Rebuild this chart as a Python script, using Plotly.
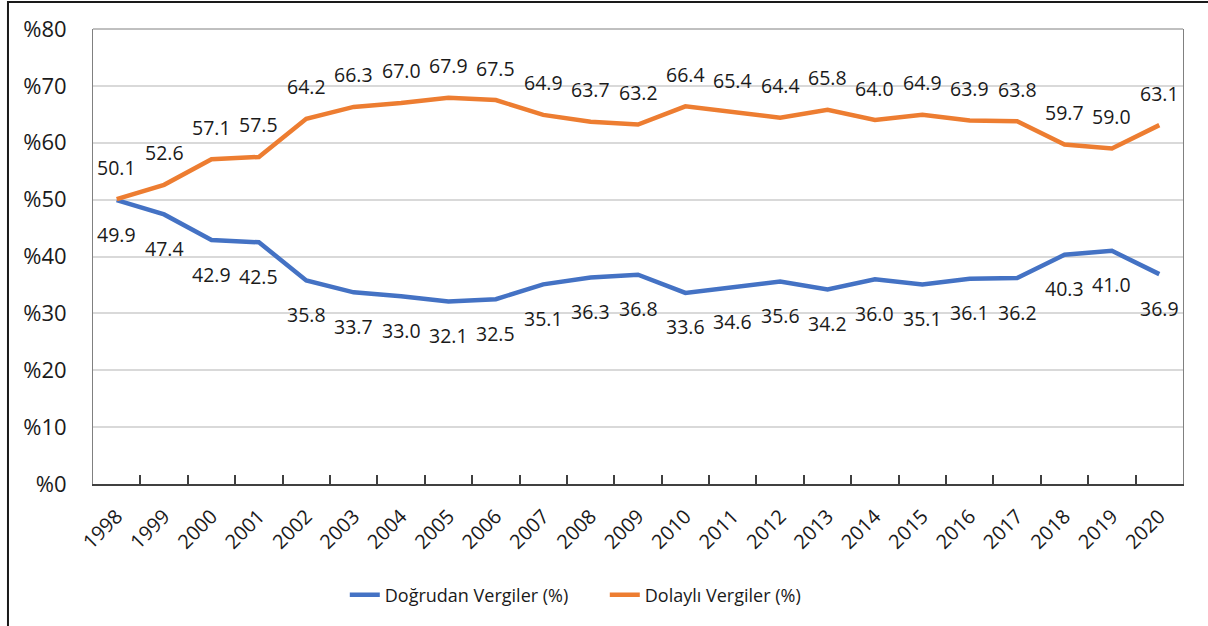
import plotly.graph_objects as go

years = [str(y) for y in range(1998, 2021)]
dogrudan = [49.9, 47.4, 42.9, 42.5, 35.8, 33.7, 33.0, 32.1, 32.5, 35.1, 36.3, 36.8,
            33.6, 34.6, 35.6, 34.2, 36.0, 35.1, 36.1, 36.2, 40.3, 41.0, 36.9]
dolayli = [50.1, 52.6, 57.1, 57.5, 64.2, 66.3, 67.0, 67.9, 67.5, 64.9, 63.7, 63.2,
           66.4, 65.4, 64.4, 65.8, 64.0, 64.9, 63.9, 63.8, 59.7, 59.0, 63.1]
y_ticks = [0, 10, 20, 30, 40, 50, 60, 70, 80]
y_ticktext = ["%" + str(v) for v in y_ticks]

BLUE = "#4472C4"
ORANGE = "#ED7D31"
FONT = "Open Sans"
TXT = "#1a1a1a"

fig = go.Figure()
fig.add_trace(go.Scatter(x=years, y=dogrudan, mode="lines", name="Doğrudan Vergiler (%)",
                         line=dict(color=BLUE, width=4.5)))
fig.add_trace(go.Scatter(x=years, y=dolayli, mode="lines", name="Dolaylı Vergiler (%)",
                         line=dict(color=ORANGE, width=4.5)))

for i, v in enumerate(dolayli):
    fig.add_annotation(x=i, y=v, xref="x", yref="y", text=f"{v:.1f}", showarrow=False,
                       yshift=32, font=dict(family=FONT, size=19.5, color=TXT))
for i, v in enumerate(dogrudan):
    fig.add_annotation(x=i, y=v, xref="x", yref="y", text=f"{v:.1f}", showarrow=False,
                       yshift=-34, font=dict(family=FONT, size=19.5, color=TXT))

fig.update_layout(
    width=1208, height=626,
    margin=dict(l=93, r=25, t=29, b=142),
    paper_bgcolor="white", plot_bgcolor="white",
    font=dict(family=FONT, size=18, color=TXT),
    showlegend=True,
    legend=dict(orientation="h", x=0.231, xanchor="left", y=-0.244, yanchor="middle",
                font=dict(family=FONT, size=18, color=TXT),
                entrywidth=215, entrywidthmode="pixels",
                bgcolor="rgba(0,0,0,0)"),
    shapes=[
        dict(type="rect", xref="paper", yref="paper", x0=-0.078, x1=1.3, y0=-0.6, y1=1.0593,
             line=dict(color=TXT, width=2), fillcolor="rgba(0,0,0,0)", layer="below"),
        dict(type="line", xref="paper", yref="paper", x0=0, x1=1, y0=1, y1=1,
             line=dict(color="#808080", width=1)),
    ],
)
fig.update_xaxes(type="category", range=[-0.5, 22.5], tickson="boundaries", ticks="inside",
                 ticklen=9, tickcolor="#404040", tickwidth=1.5, showline=True, linecolor="#404040",
                 linewidth=1.5, mirror=False, showgrid=False, tickangle=-45,
                 ticklabelstandoff=11,
                 tickfont=dict(family=FONT, size=20, color=TXT))
fig.update_yaxes(range=[0, 80], tickvals=y_ticks, ticktext=y_ticktext, showgrid=True,
                 gridcolor="#d9d9d9", gridwidth=1.5, showline=True, linecolor="#808080",
                 linewidth=1, mirror=True, zeroline=False, ticks="", ticklabelstandoff=21,
                 tickfont=dict(family=FONT, size=22, color=TXT))

fig.write_html("out.html", post_script="document.body.style.margin='0';",
               config={"displayModeBar": False})
